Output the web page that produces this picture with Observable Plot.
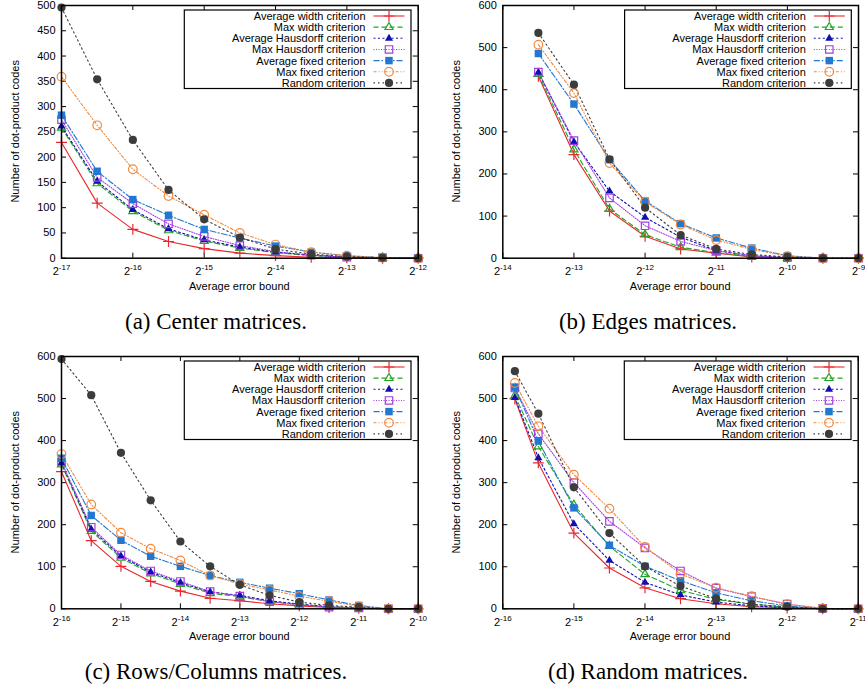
<!DOCTYPE html>
<html><head><meta charset="utf-8">
<script src="https://cdn.jsdelivr.net/npm/d3@7"></script>
<script src="https://cdn.jsdelivr.net/npm/@observablehq/plot@0.6"></script>
<style>
body{margin:0;background:#fff;}
#root{position:relative;width:865px;height:694px;overflow:hidden;background:#fff;}
.panel{position:absolute;}
.cap{position:absolute;width:432px;text-align:center;font-family:"Liberation Serif","Times New Roman",serif;font-size:23px;color:#000;line-height:1;}
</style></head><body><div id="root"></div><script>
const series = ["Average width criterion","Max width criterion","Average Hausdorff criterion","Max Hausdorff criterion","Average fixed criterion","Max fixed criterion","Random criterion"];
const colors = ["#e8282e","#22a422","#1010b0","#a23ee0","#2277d0","#f08a40","#3c3c3c"];
const dashes = [null,"5,3","2,2.5","1,1.5","6,2,1.5,2","3,2,1,2,1,2","1.5,3"];
const symbols = ["plus","triangle","triangle","square","square","circle","circle"];
const filled = [false,false,true,false,true,false,true];
const radii = [3.6,3,3,4.2,4.2,4.3,4.1];

// panel (a) Center matrices
const expA = [-17,-16.5,-16,-15.5,-15,-14.5,-14,-13.5,-13,-12.5,-12];
const avgWidthA = [229,109,57,33,19,10,5,2,1,0,0];
const maxWidthA = [258,148,93,55,34,20,11,5,2,1,0];
const avgHausA  = [261,152,96,58,36,22,12,6,2,1,0];
const maxHausA  = [274,160,108,68,43,25,13,6,2,1,0];
const avgFixedA = [283,172,116,85,57,40,24,12,5,1,0];
const maxFixedA = [359,263,176,123,86,50,27,12,5,1,0];
const randomA   = [496,354,234,135,77,41,18,8,3,1,0];

// panel (b) Edges matrices
const expB = [-13.5,-13,-12.5,-12,-11.5,-11,-10.5,-10,-9.5,-9];
const avgWidthB = [432,246,112,52,22,12,3,1,0,0];
const maxWidthB = [437,258,117,56,26,13,4,1,0,0];
const avgHausB  = [441,276,159,97,50,18,6,2,0,0];
const maxHausB  = [442,279,143,77,40,18,6,1,0,0];
const avgFixedB = [486,366,234,136,82,48,24,6,0,0];
const maxFixedB = [507,392,226,134,80,43,21,5,0,0];
const randomB   = [535,412,235,120,55,22,9,3,0,0];

// panel (c) Rows/Columns matrices
const expC = [-16,-15.5,-15,-14.5,-14,-13.5,-13,-12.5,-12,-11.5,-11,-10.5,-10];
const avgWidthC = [326,162,101,65,42,25,19,12,7,3,1,0,0];
const maxWidthC = [343,185,121,84,59,37,29,17,10,4,1,0,0];
const avgHausC  = [347,189,125,87,62,40,32,19,11,5,2,0,0];
const maxHausC  = [349,194,128,90,65,41,30,17,10,4,2,0,0];
const avgFixedC = [358,222,163,125,101,79,63,49,36,21,8,0,0];
const maxFixedC = [368,248,181,143,115,79,59,45,30,18,6,0,0];
const randomC   = [594,508,371,258,160,101,57,32,16,8,4,0,0];

// panel (d) Random matrices
const expD = [-15.83,-15.5,-15,-14.5,-14,-13.5,-13,-12.5,-12,-11.5,-11];
const avgWidthD = [499,347,180,97,50,24,12,5,2,0,0];
const maxWidthD = [507,386,247,149,82,44,22,11,4,0,0];
const avgHausD  = [502,359,202,115,63,33,16,7,3,0,0];
const maxHausD  = [525,416,300,208,145,90,49,29,11,1,0];
const avgFixedD = [527,399,240,151,101,67,38,19,7,0,0];
const maxFixedD = [537,434,319,238,147,83,50,30,11,1,0];
const randomD   = [565,464,289,180,101,54,24,11,5,0,0];

const captions = ["(a) Center matrices.","(b) Edges matrices.","(c) Rows/Columns matrices.","(d) Random matrices."];
const xLabel = "Average error bound";
const yLabel = "Number of dot-product codes";

const panels = [
  {exps: expA, values:[avgWidthA,maxWidthA,avgHausA,maxHausA,avgFixedA,maxFixedA,randomA], yMax:500, yStep:50, xMin:-17, xMax:-12, left:0, top:0, ml:61, mr:14.3, mt:5, mb:42.3},
  {exps: expB, values:[avgWidthB,maxWidthB,avgHausB,maxHausB,avgFixedB,maxFixedB,randomB], yMax:600, yStep:100, xMin:-14, xMax:-9, left:432, top:0, ml:70.3, mr:6, mt:5, mb:42.3},
  {exps: expC, values:[avgWidthC,maxWidthC,avgHausC,maxHausC,avgFixedC,maxFixedC,randomC], yMax:600, yStep:100, xMin:-16, xMax:-10, left:0, top:350, ml:61, mr:14.3, mt:6, mb:41.7},
  {exps: expD, values:[avgWidthD,maxWidthD,avgHausD,maxHausD,avgFixedD,maxFixedD,randomD], yMax:600, yStep:100, xMin:-16, xMax:-11, left:432, top:350, ml:70.3, mr:6.3, mt:6, mb:41.7}
];

const root = document.getElementById("root");
const W = 432, H = 300;
const FONT = "'Liberation Sans', Arial, Helvetica, sans-serif";

panels.forEach((p, k) => {
  const iw = W - p.ml - p.mr, ih = H - p.mt - p.mb;
  const xt = d3.range(p.xMin, p.xMax + 1).map(e => 2 ** e);
  const yt = d3.range(0, p.yMax + 1, p.yStep);
  const marks = [
    Plot.tickY(yt, {stroke:"black", strokeWidth:1, insetRight: iw - 5}),
    Plot.tickY(yt, {stroke:"black", strokeWidth:1, insetLeft: iw - 5}),
    Plot.tickX(xt, {stroke:"black", strokeWidth:1, insetTop: ih - 5}),
    Plot.tickX(xt, {stroke:"black", strokeWidth:1, insetBottom: ih - 5}),
    Plot.axisY({ticks: yt, tickSize: 0, tickPadding: 6, label: null, tickFormat: d => String(d)}),
    Plot.axisX({ticks: xt, tickSize: 0, tickPadding: 9, label: null, tickFormat: d => String(Math.round(Math.log2(d)))})
  ];
  series.forEach((s, i) => {
    const data = p.exps.map((e, j) => ({x: 2 ** e, y: p.values[i][j]}));
    marks.push(Plot.line(data, {x:"x", y:"y", stroke: colors[i], strokeWidth: 1.1, strokeDasharray: dashes[i] || undefined}));
  });
  series.forEach((s, i) => {
    const data = p.exps.map((e, j) => ({x: 2 ** e, y: p.values[i][j]}));
    marks.push(Plot.dot(data, {x:"x", y:"y", symbol: symbols[i], r: radii[i],
      fill: filled[i] ? colors[i] : "none", stroke: colors[i], strokeWidth: filled[i] ? 0 : 1.2}));
  });
  marks.push(Plot.frame({stroke:"black", strokeWidth:1.5}));

  const svg = Plot.plot({
    width: W, height: H,
    marginLeft: p.ml, marginRight: p.mr, marginTop: p.mt, marginBottom: p.mb,
    x: {type:"log", base:2, domain:[2 ** p.xMin, 2 ** p.xMax]},
    y: {domain:[0, p.yMax]},
    style: {fontFamily: FONT, fontSize: "11px", color: "black", background: "transparent", overflow: "visible"},
    marks
  });

  const S = d3.select(svg);
  S.selectAll('g[aria-label="x-axis tick label"] text').each(function() {
    const t = this.textContent;
    const sel = d3.select(this);
    sel.text("2");
    sel.append("tspan").attr("dy", -5).attr("font-size", "8px").text(t);
  });
  S.append("text").attr("x", p.ml + iw / 2).attr("y", p.mt + ih + 32)
    .attr("text-anchor", "middle").attr("font-family", FONT).attr("font-size", 11).attr("fill", "black").text(xLabel);
  S.append("text").attr("transform", `translate(${p.ml - 42},${p.mt + ih / 2}) rotate(-90)`)
    .attr("text-anchor", "middle").attr("font-family", FONT).attr("font-size", 11).attr("fill", "black").text(yLabel);

  const bR = p.ml + iw - 6.7, bT = p.mt + 5, bW = 226.7, bH = 78.5;
  const L = S.append("g");
  L.append("rect").attr("x", bR - bW).attr("y", bT).attr("width", bW).attr("height", bH)
    .attr("fill", "white").attr("stroke", "black").attr("stroke-width", 1.2);
  series.forEach((s, i) => {
    const cy = bT + 6 + i * 11.15;
    L.append("text").attr("x", bR - 45.5).attr("y", cy + 4).attr("text-anchor", "end")
      .attr("font-family", FONT).attr("font-size", 11).attr("fill", "black").text(s);
    L.append("line").attr("x1", bR - 37.5).attr("x2", bR - 6.5).attr("y1", cy).attr("y2", cy)
      .attr("stroke", colors[i]).attr("stroke-width", 1.1).attr("stroke-dasharray", dashes[i]);
    const sym = {plus: d3.symbolPlus, triangle: d3.symbolTriangle, square: d3.symbolSquare, circle: d3.symbolCircle}[symbols[i]];
    L.append("path").attr("transform", `translate(${bR - 22},${cy})`)
      .attr("d", d3.symbol(sym, Math.PI * radii[i] * radii[i])())
      .attr("fill", filled[i] ? colors[i] : "none").attr("stroke", filled[i] ? "none" : colors[i]).attr("stroke-width", 1.2);
  });

  const div = document.createElement("div");
  div.className = "panel";
  div.style.left = p.left + "px";
  div.style.top = p.top + "px";
  div.appendChild(svg);
  root.appendChild(div);

  const cap = document.createElement("div");
  cap.className = "cap";
  cap.style.left = p.left + "px";
  cap.style.top = (p.top + 310) + "px";
  cap.textContent = captions[k];
  root.appendChild(cap);
});
</script></body></html>
